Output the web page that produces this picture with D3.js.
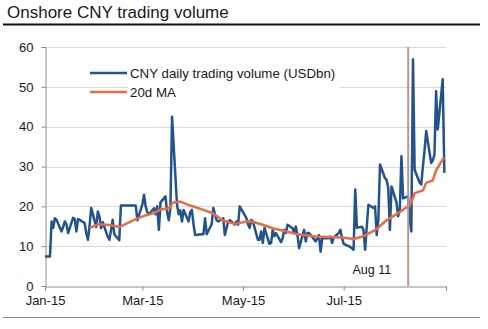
<!DOCTYPE html>
<html><head><meta charset="utf-8">
<script src="https://cdn.jsdelivr.net/npm/d3@7"></script>
<style>
body{margin:0;background:#fff}
svg{display:block}
text{font-family:"Liberation Sans",Arial,Helvetica,sans-serif;fill:#1a1a1a}
</style>
</head><body>
<svg id="chart" width="488" height="329"></svg>
<script>
// ---------- data ----------
const chartTitle = "Onshore CNY trading volume";
const seriesNames = ["CNY daily trading volume (USDbn)", "20d MA"];
const yTicks = [0, 10, 20, 30, 40, 50, 60];
const xTickDates = ["2015-01-02", "2015-03-02", "2015-05-02", "2015-07-02", "2015-09-02"];
const xTickLabels = ["Jan-15", "Mar-15", "May-15", "Jul-15", ""];
const firstDay = "2015-01-02";
const lastDay = "2015-09-01";
const marketHolidays = ["2015-02-18", "2015-02-19", "2015-02-20", "2015-02-23", "2015-02-24",
  "2015-04-06", "2015-05-01", "2015-06-22"];

// daily volumes (USDbn), one value per trading day, by month
const volJan = [7.4, 7.4, 16.2, 14.6, 17.0, 16.6, 13.7, 14.8, 16.2, 15.5, 13.3, 17.1, 16.8, 13.7, 16.8, 16.6, 15.8, 13.3, 11.6, 15.0, 19.6];
const volFeb = [14.8, 18.7, 17.5, 14.5, 16.0, 12.4, 11.6, 14.0, 16.6, 13.0, 11.5, 20.2, 20.2, 20.2, 16.5];
const volMar = [20.5, 22.9, 20.0, 18.5, 18.0, 19.5, 18.0, 20.0, 14.1, 21.0, 22.5, 18.5, 16.5, 19.5, 42.5, 20.4, 18.0, 19.0, 16.2, 19.1, 16.2, 18.5];
const volApr = [19.1, 15.5, 12.8, 13.0, 13.0, 17.0, 13.0, 15.5, 19.6, 18.0, 16.5, 16.2, 17.0, 12.8, 14.5, 16.2, 16.5, 15.4, 16.2, 15.4, 20.0];
const volMay = [17.1, 15.5, 14.6, 16.6, 16.2, 11.6, 11.6, 13.7, 10.8, 14.6, 10.6, 10.8, 14.1, 12.5, 13.3, 11.0, 12.0, 14.1, 13.3, 15.4];
const volJun = [14.5, 13.3, 14.9, 12.8, 9.5, 14.1, 11.2, 13.3, 13.3, 12.8, 11.2, 12.0, 12.8, 8.6, 12.0, 12.0, 12.4, 10.8, 12.2, 13.3, 14.1];
const volJul = [12.0, 10.6, 10.4, 9.8, 9.5, 9.1, 24.2, 14.6, 14.9, 14.1, 9.1, 15.0, 20.4, 19.6, 20.0, 12.8, 16.6, 30.5, 27.1, 26.7, 24.6, 14.1, 25.0];
const volAug = [21.0, 17.5, 19.0, 32.6, 22.0, 22.5, 17.0, 13.7, 56.9, 29.2, 26.0, 25.5, 30.0, 34.0, 38.9, 30.9, 31.5, 33.0, 48.9, 39.3, 51.9];
const volSep = [28.4];

// 20-day moving average, read at roughly weekly points
const maDates = ["2015-01-29", "2015-02-03", "2015-02-10", "2015-02-16", "2015-02-25", "2015-03-03", "2015-03-09",
  "2015-03-13", "2015-03-19", "2015-03-20", "2015-03-25", "2015-03-31", "2015-04-08", "2015-04-14", "2015-04-20",
  "2015-04-27", "2015-05-06", "2015-05-13", "2015-05-20", "2015-05-27", "2015-06-05", "2015-06-15", "2015-06-24",
  "2015-07-01", "2015-07-08", "2015-07-14", "2015-07-21", "2015-07-28", "2015-08-04", "2015-08-10", "2015-08-12",
  "2015-08-14", "2015-08-19", "2015-08-21", "2015-08-25", "2015-08-27", "2015-08-31", "2015-09-01"];
const maValues = [14.5, 15.5, 15.3, 14.8, 16.6, 17.6, 18.3,
  19.2, 19.6, 20.9, 21.2, 20.2, 19.1, 18.2, 16.4,
  15.6, 16.3, 15.5, 14.5, 13.8, 12.9, 12.4, 12.3,
  12.2, 11.8, 12.5, 14.0, 16.5, 18.3, 20.0, 21.0,
  23.3, 24.0, 25.9, 26.5, 29.0, 31.8, 32.2];

const eventDate = "2015-08-11";
const eventLabel = "Aug 11";

// ---------- build ----------
const parse = d3.timeParse("%Y-%m-%d");
const fmt = d3.timeFormat("%Y-%m-%d");
const holidaySet = new Set(marketHolidays);
const tradingDays = d3.timeDay.range(parse(firstDay), d3.timeDay.offset(parse(lastDay), 1))
  .filter(d => d.getDay() !== 0 && d.getDay() !== 6 && !holidaySet.has(fmt(d)));
const volumes = [].concat(volJan, volFeb, volMar, volApr, volMay, volJun, volJul, volAug, volSep);
const volData = tradingDays.map((d, i) => ({date: d, v: volumes[i]}));
const maData = maDates.map((d, i) => ({date: parse(d), v: maValues[i]}));

const svg = d3.select("#chart");
const x = d3.scaleTime().domain([parse(xTickDates[0]), parse(xTickDates[xTickDates.length - 1])]).range([45, 446]);
const y = d3.scaleLinear().domain([0, 60]).range([286, 47]);

// title and rules
svg.append("text").attr("x", 7).attr("y", 18).attr("font-size", 17).text(chartTitle);
svg.append("line").attr("x1", 3).attr("x2", 480).attr("y1", 24.5).attr("y2", 24.5)
  .attr("stroke", "#111").attr("stroke-width", 2);
svg.append("line").attr("x1", 3).attr("x2", 480).attr("y1", 317.5).attr("y2", 317.5)
  .attr("stroke", "#8a8a8a").attr("stroke-width", 1);

// gridlines
svg.append("g").selectAll("line").data(yTicks.filter(t => t > 0)).join("line")
  .attr("x1", x.range()[0]).attr("x2", x.range()[1])
  .attr("y1", d => Math.round(y(d)) + 0.5).attr("y2", d => Math.round(y(d)) + 0.5)
  .attr("stroke", "#d9d9d9").attr("stroke-width", 1);

// legend background covering the grid behind the text
svg.append("rect").attr("x", 128).attr("y", 64).attr("width", 212).attr("height", 38).attr("fill", "#fff");

// axes
const yAxis = d3.axisLeft(y).tickValues(yTicks).tickSize(4).tickPadding(8).tickFormat(d3.format("d"));
const gy = svg.append("g").attr("transform", "translate(45.5,0)").call(yAxis);
const xAxis = d3.axisBottom(x).tickValues(xTickDates.map(parse)).tickSize(4).tickPadding(5)
  .tickFormat((d, i) => xTickLabels[i]);
const gx = svg.append("g").attr("transform", "translate(0,286.5)").call(xAxis);
[gx, gy].forEach(g => {
  g.select(".domain").attr("stroke", "#8c8c8c");
  g.selectAll(".tick line").attr("stroke", "#8c8c8c");
  g.selectAll("text").attr("font-size", 13).attr("fill", "#1a1a1a")
    .attr("font-family", '"Liberation Sans",Arial,sans-serif');
});

// series
const blue = "#22538f", orange = "#e86c45";
const line = d3.line().x(d => x(d.date)).y(d => y(d.v));
svg.append("path").datum(volData).attr("d", line).attr("fill", "none")
  .attr("stroke", blue).attr("stroke-width", 2.5).attr("stroke-linejoin", "round");
svg.append("path").datum(maData).attr("d", line).attr("fill", "none")
  .attr("stroke", orange).attr("stroke-width", 2.5).attr("stroke-linejoin", "round");

// event marker
const ex = x(parse(eventDate)) - 1.5;
svg.append("line").attr("x1", ex).attr("x2", ex).attr("y1", y(60)).attr("y2", y(0))
  .attr("stroke", "#b8968b").attr("stroke-width", 2);
svg.append("text").attr("x", ex - 17).attr("y", 274).attr("text-anchor", "end")
  .attr("font-size", 12.5).text(eventLabel);

// legend
const legendItems = [{name: seriesNames[0], color: blue, y: 73}, {name: seriesNames[1], color: orange, y: 92}];
const lg = svg.append("g");
legendItems.forEach(it => {
  lg.append("line").attr("x1", 90).attr("x2", 127).attr("y1", it.y).attr("y2", it.y)
    .attr("stroke", it.color).attr("stroke-width", 2.5);
  lg.append("text").attr("x", 130).attr("y", it.y + 4.8).attr("font-size", 13.3).text(it.name);
});
</script>
</body></html>
